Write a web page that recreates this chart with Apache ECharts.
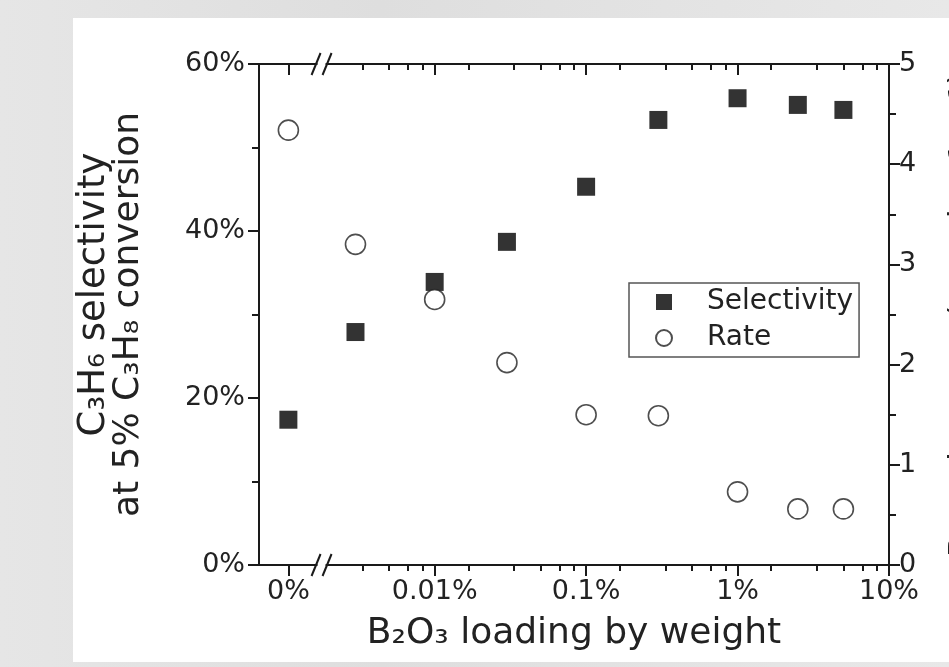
<!DOCTYPE html>
<html>
<head>
<meta charset="utf-8">
<script src="https://cdn.jsdelivr.net/npm/echarts@6/dist/echarts.min.js"></script>
<style>
  html, body { margin: 0; padding: 0; }
  body {
    width: 949px; height: 667px; overflow: hidden; position: relative;
    background: linear-gradient(90deg, #e6e6e6 0%, #dedede 40%, #e8e8e8 100%);
  }
  .panel { position: absolute; left: 73px; top: 18px; width: 876px; height: 644px; background: #fff; }
  #chart { position: absolute; left: 0; top: 0; width: 949px; height: 667px; }
</style>
</head>
<body>
<div class="panel"></div>
<div id="chart"></div>
<script>
// B2O3 loading by weight (%), 0 = no boron
const loadings = [0, 0.003, 0.01, 0.03, 0.1, 0.3, 1, 2.5, 5];
// C3H6 selectivity at 5% C3H8 conversion (%)
const selectivity = [17.4, 27.9, 33.9, 38.7, 45.3, 53.3, 55.9, 55.1, 54.5];
// rate (right axis)
const rate = [4.34, 3.20, 2.65, 2.02, 1.50, 1.49, 0.73, 0.56, 0.56];

// x axis ticks
const xTickLoads = [0, 0.01, 0.1, 1, 10];
const xTickLabels = ["0%", "0.01%", "0.1%", "1%", "10%"];
const minorSteps = [5 / 3, 10 / 3, 5, 20 / 3, 25 / 3]; // minor ticks inside each decade
const minorDecades = [-3, -2, -1, 0];

// log axis layout: where 0% sits and where the break is drawn
const X_MIN = -3.16;
const X_MAX = 1;
const ZERO_POS = -2.966;
const BREAK_POS = -2.747;

const toPos = (v) => (v === 0 ? ZERO_POS : Math.log10(v));

const majorPos = xTickLoads.map(toPos);
const minorPos = [];
minorDecades.forEach((d) => {
  minorSteps.forEach((s) => {
    const p = d + Math.log10(s);
    if (p > BREAK_POS + 0.2 && p < X_MAX) minorPos.push(p);
  });
});

const selData = loadings.map((l, i) => [toPos(l), selectivity[i]]);
const rateData = loadings.map((l, i) => [toPos(l), rate[i]]);

const FONT = "DejaVu Sans";
const INK = "#1a1a1a";
const TXT = "#222";

const chart = echarts.init(document.getElementById("chart"));

const xBase = {
  type: "value",
  min: X_MIN,
  max: X_MAX,
  splitLine: { show: false },
  axisLine: { show: false, onZero: false },
  axisLabel: { show: false },
};

const option = {
  animation: false,
  textStyle: { fontFamily: FONT },
  grid: { left: 259, right: 60, top: 64, bottom: 102, outerBoundsMode: "none", containLabel: false },
  legend: {
    orient: "vertical",
    left: 629,
    top: 283,
    padding: [4, 6, 4, 26],
    itemGap: 6,
    itemWidth: 16,
    itemHeight: 16,
    borderColor: "#555",
    borderWidth: 1.5,
    textStyle: { fontFamily: FONT, fontSize: 28, color: TXT, lineHeight: 30, padding: [0, 0, 0, 30] },
    data: ["Selectivity", "Rate"],
  },
  xAxis: [
    {
      ...xBase,
      position: "bottom",
      axisLine: { show: true, onZero: false, lineStyle: { color: INK, width: 2 } },
      axisTick: { show: true, customValues: majorPos, length: 11, lineStyle: { color: INK, width: 2 } },
      axisLabel: {
        show: true,
        customValues: majorPos,
        margin: 13,
        fontSize: 27,
        color: TXT,
        fontFamily: FONT,
        formatter: (v) => {
          const i = majorPos.findIndex((p) => Math.abs(p - v) < 1e-6);
          return i >= 0 ? xTickLabels[i] : "";
        },
      },
      name: "B\u2082O\u2083 loading by weight",
      nameLocation: "middle",
      nameGap: 51,
      nameTextStyle: { fontSize: 36, color: TXT, fontFamily: FONT },
    },
    {
      ...xBase,
      position: "bottom",
      axisTick: { show: true, customValues: minorPos, length: 6, lineStyle: { color: INK, width: 2 } },
    },
    {
      ...xBase,
      position: "top",
      axisLine: { show: true, onZero: false, lineStyle: { color: INK, width: 2 } },
      axisTick: { show: true, inside: true, customValues: majorPos, length: 11, lineStyle: { color: INK, width: 2 } },
    },
    {
      ...xBase,
      position: "top",
      axisTick: { show: true, inside: true, customValues: minorPos, length: 6, lineStyle: { color: INK, width: 2 } },
    },
  ],
  yAxis: [
    {
      type: "value",
      position: "left",
      min: 0,
      max: 60,
      interval: 20,
      splitLine: { show: false },
      axisLine: { show: true, onZero: false, lineStyle: { color: INK, width: 2 } },
      axisTick: { show: true, length: 11, lineStyle: { color: INK, width: 2 } },
      minorTick: { show: true, splitNumber: 2, length: 7, lineStyle: { color: INK, width: 2 } },
      axisLabel: { margin: 14, fontSize: 27, color: TXT, fontFamily: FONT, formatter: "{value}%" },
      name: "{a|C\u2083H\u2086 selectivity}\n{b|at 5% C\u2083H\u2088 conversion}",
      nameLocation: "middle",
      nameGap: 113,
      nameTextStyle: {
        color: TXT,
        fontFamily: FONT,
        rich: {
          a: { fontSize: 37, lineHeight: 35, color: TXT, fontFamily: FONT, padding: [0, 0, 0, 40] },
          b: { fontSize: 36, lineHeight: 34, color: TXT, fontFamily: FONT },
        },
      },
    },
    {
      type: "value",
      position: "right",
      min: 0,
      max: 5,
      interval: 1,
      splitLine: { show: false },
      axisLine: { show: true, onZero: false, lineStyle: { color: INK, width: 2 } },
      axisTick: { show: true, length: 11, lineStyle: { color: INK, width: 2 } },
      minorTick: { show: true, splitNumber: 2, length: 7, lineStyle: { color: INK, width: 2 } },
      axisLabel: { margin: 10, fontSize: 27, color: TXT, fontFamily: FONT },
      name: "Reaction rate (mmol g\u207B\u00B9 s\u207B\u00B9)",
      nameLocation: "middle",
      nameRotate: 90,
      nameGap: 58,
      nameTextStyle: { fontSize: 34, color: TXT, fontFamily: FONT },
    },
  ],
  series: [
    {
      name: "Selectivity",
      type: "scatter",
      xAxisIndex: 0,
      yAxisIndex: 0,
      symbol: "rect",
      symbolSize: 18,
      itemStyle: { color: "#000" },
      data: selData,
      z: 3,
    },
    {
      name: "Rate",
      type: "scatter",
      xAxisIndex: 0,
      yAxisIndex: 1,
      symbol: "circle",
      symbolSize: 20,
      itemStyle: { color: "#fff", borderColor: "#222", borderWidth: 1.6 },
      data: rateData,
      z: 3,
    },
  ],
};

chart.setOption(option);

// axis break marks "//" on bottom and top axes
const bx = chart.convertToPixel({ xAxisIndex: 0 }, BREAK_POS);
const yBottom = chart.convertToPixel({ yAxisIndex: 0 }, 0);
const yTop = chart.convertToPixel({ yAxisIndex: 0 }, 60);
const breakMark = (y) => [
  { type: "rect", shape: { x: bx - 4, y: y - 3, width: 8, height: 6 }, style: { fill: "#fff" }, z: 10 },
  { type: "line", shape: { x1: bx - 10, y1: y + 11, x2: bx - 1, y2: y - 11 }, style: { stroke: INK, lineWidth: 2 }, z: 11 },
  { type: "line", shape: { x1: bx + 1, y1: y + 11, x2: bx + 10, y2: y - 11 }, style: { stroke: INK, lineWidth: 2 }, z: 11 },
];
chart.setOption({ graphic: [...breakMark(yBottom), ...breakMark(yTop)] });
</script>
</body>
</html>
